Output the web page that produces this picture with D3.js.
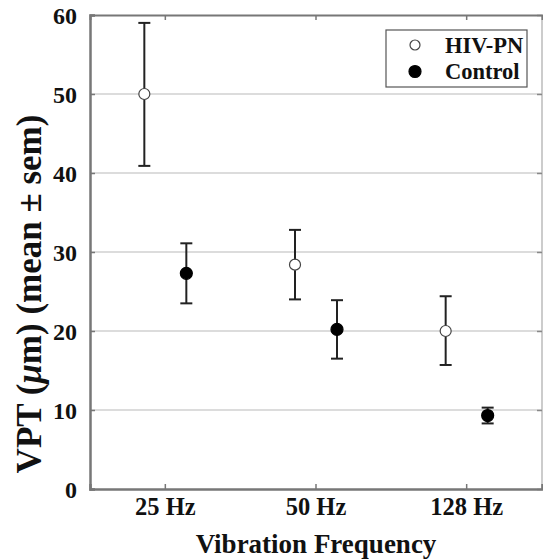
<!DOCTYPE html>
<html>
<head>
<meta charset="utf-8">
<script src="https://cdn.jsdelivr.net/npm/d3@7"></script>
<style>
    body { margin: 0; background: #fff; }
</style>
</head>
<body>
<svg id="chart"></svg>
<script>
const frequencies = ["25 Hz", "50 Hz", "128 Hz"];
const groups = ["HIV-PN", "Control"];
const yTicks = [0, 10, 20, 30, 40, 50, 60];

// mean and upper/lower ends of the error bar, per frequency
const hivMean = [50.0, 28.4, 20.0];
const hivHigh = [59.0, 32.8, 24.4];
const hivLow = [40.9, 24.0, 15.7];
const ctrlMean = [27.3, 20.2, 9.3];
const ctrlHigh = [31.1, 23.9, 10.3];
const ctrlLow = [23.5, 16.5, 8.3];

const serif = "'Liberation Serif', 'Times New Roman', Times, 'DejaVu Serif', serif";

const svgWidth = 543;
const svgHeight = 559;
const margin = { left: 90, right: 1, top: 15, bottom: 70 };

const svg = d3.select("#chart")
    .attr("width", svgWidth)
    .attr("height", svgHeight);

const xScale = d3.scaleBand()
    .domain(frequencies)
    .range([margin.left, svgWidth - margin.right]);

// offset of each group inside a frequency slot
const groupScale = d3.scalePoint()
    .domain(groups)
    .range([-21, 21]);

const yScale = d3.scaleLinear()
    .domain([0, 60])
    .range([svgHeight - margin.bottom, margin.top]);

const x0 = margin.left, x1 = svgWidth - margin.right;
const y0 = svgHeight - margin.bottom, y1 = margin.top;

// grid lines
svg.append("g")
    .selectAll("line")
    .data(yTicks.filter(t => t > 0 && t < 60))
    .enter()
    .append("line")
    .attr("x1", x0)
    .attr("x2", x1)
    .attr("y1", d => yScale(d))
    .attr("y2", d => yScale(d))
    .attr("stroke", "#dcdcdc")
    .attr("stroke-width", 2);

// right frame edge
svg.append("line").attr("x1", x1).attr("x2", x1).attr("y1", y1).attr("y2", y0)
    .attr("stroke", "#bbb").attr("stroke-width", 1.5);

// axes with inward ticks
const yAxis = d3.axisLeft(yScale).tickValues(yTicks).tickSize(-5).tickPadding(13);
const yAxisRight = d3.axisRight(yScale).tickValues(yTicks).tickSize(-5).tickFormat("");
const xAxis = d3.axisBottom(xScale).tickSize(-5).tickPadding(9);
const xAxisTop = d3.axisTop(xScale).tickSize(-5).tickFormat("");

svg.append("g")
    .attr("transform", `translate(${x1}, 0)`)
    .call(yAxisRight)
    .call(g => g.select(".domain").remove())
    .call(g => g.selectAll("line").attr("stroke", "#888").attr("stroke-width", 1.5));

svg.append("g")
    .attr("transform", `translate(0, ${y1})`)
    .call(xAxisTop)
    .call(g => g.select(".domain").attr("stroke", "#777").attr("stroke-width", 2))
    .call(g => g.selectAll("line").attr("stroke", "#777").attr("stroke-width", 1.5));

svg.append("g")
    .attr("transform", `translate(${x0}, 0)`)
    .call(yAxis)
    .attr("font-family", null)
    .call(g => g.select(".domain").attr("stroke", "#777").attr("stroke-width", 2.5))
    .call(g => g.selectAll(".tick line").attr("stroke", "#777").attr("stroke-width", 1.5))
    .call(g => g.selectAll("text").attr("dy", "0.36em")
        .style("font-family", serif).style("font-weight", "bold")
        .style("font-size", "24px").attr("fill", "#111"));

svg.append("g")
    .attr("transform", `translate(0, ${y0})`)
    .call(xAxis)
    .attr("font-family", null)
    .call(g => g.select(".domain").attr("stroke", "#777").attr("stroke-width", 2.5))
    .call(g => g.selectAll(".tick line").attr("stroke", "#777").attr("stroke-width", 1.5))
    .call(g => g.selectAll("text").attr("dy", "0.71em")
        .style("font-family", serif).style("font-weight", "bold")
        .style("font-size", "24.5px").attr("fill", "#111"));

// build point table from the arrays
const points = [];
frequencies.forEach((f, i) => {
    points.push({ freq: f, group: "HIV-PN", mean: hivMean[i], high: hivHigh[i], low: hivLow[i] });
    points.push({ freq: f, group: "Control", mean: ctrlMean[i], high: ctrlHigh[i], low: ctrlLow[i] });
});
const px = d => xScale(d.freq) + xScale.bandwidth() / 2 + groupScale(d.group);
const capHalf = 6;

const bars = svg.append("g")
    .selectAll("g")
    .data(points)
    .enter()
    .append("g")
    .attr("stroke", "#222")
    .attr("stroke-width", 2);

bars.append("line")
    .attr("x1", px).attr("x2", px)
    .attr("y1", d => yScale(d.high)).attr("y2", d => yScale(d.low));
bars.append("line")
    .attr("x1", d => px(d) - capHalf).attr("x2", d => px(d) + capHalf)
    .attr("y1", d => yScale(d.high)).attr("y2", d => yScale(d.high));
bars.append("line")
    .attr("x1", d => px(d) - capHalf).attr("x2", d => px(d) + capHalf)
    .attr("y1", d => yScale(d.low)).attr("y2", d => yScale(d.low));

svg.append("g")
    .selectAll("circle")
    .data(points)
    .enter()
    .append("circle")
    .attr("cx", px)
    .attr("cy", d => yScale(d.mean))
    .attr("r", d => d.group === "HIV-PN" ? 5.5 : 6)
    .attr("fill", d => d.group === "HIV-PN" ? "#fff" : "#000")
    .attr("stroke", d => d.group === "HIV-PN" ? "#444" : "#000")
    .attr("stroke-width", 1.2);

// legend
const legend = svg.append("g").attr("transform", "translate(386, 30)");
legend.append("rect")
    .attr("width", 141).attr("height", 57)
    .attr("fill", "#fff").attr("stroke", "#555").attr("stroke-width", 1.2);

const legendRows = legend.selectAll("g.row")
    .data(groups)
    .enter()
    .append("g")
    .attr("class", "row")
    .attr("transform", (d, i) => `translate(0, ${15 + i * 26.5})`);

legendRows.append("circle")
    .attr("cx", 29).attr("cy", 0)
    .attr("r", d => d === "HIV-PN" ? 5 : 6)
    .attr("fill", d => d === "HIV-PN" ? "#fff" : "#000")
    .attr("stroke", d => d === "HIV-PN" ? "#444" : "#000")
    .attr("stroke-width", 1.2);

legendRows.append("text")
    .attr("x", 59).attr("y", 7.5)
    .style("font-family", serif).style("font-weight", "bold")
    .style("font-size", "22.5px").attr("fill", "#111")
    .text(d => d);

// axis titles
svg.append("text")
    .attr("x", (x0 + x1) / 2)
    .attr("y", 553)
    .attr("text-anchor", "middle")
    .style("font-family", serif).style("font-weight", "bold")
    .style("font-size", "27px").attr("fill", "#111")
    .text("Vibration Frequency");

svg.append("text")
    .attr("transform", "translate(41, 294) rotate(-90)")
    .attr("text-anchor", "middle")
    .style("font-family", serif).style("font-weight", "bold")
    .style("font-size", "35px").attr("fill", "#111")
    .html("VPT (<tspan font-style='italic'>μ</tspan>m) (mean ± sem)");
</script>
</body>
</html>
